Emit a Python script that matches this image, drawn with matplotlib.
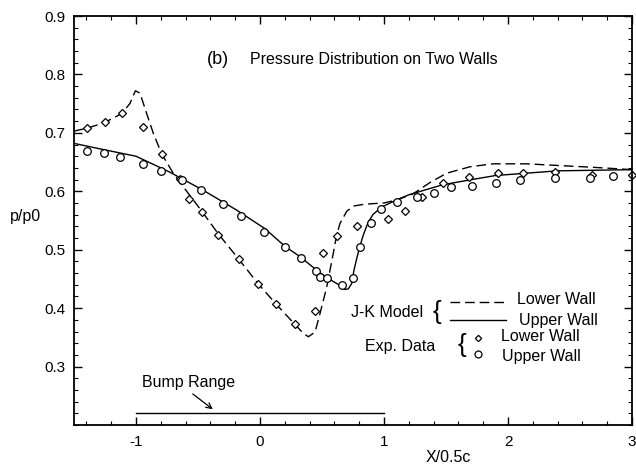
import matplotlib
matplotlib.use("Agg")
import matplotlib.pyplot as plt
from matplotlib.ticker import MultipleLocator

plt.rcParams['font.family'] = ['Liberation Sans', 'DejaVu Sans']

# J-K model, lower wall (dashed)
lower_model_x = [-1.5, -1.395, -1.26, -1.115, -1.05, -1.005, -0.968, -0.914, -0.86, -0.793,
                 -0.70, -0.62, -0.47, -0.336, -0.172, -0.016, 0.129, 0.282, 0.349, 0.39,
                 0.444, 0.484, 0.538, 0.591, 0.618, 0.645, 0.70, 0.76, 0.85, 1.0, 1.102,
                 1.237, 1.371, 1.506, 1.694, 1.88, 2.15, 2.42, 2.69, 3.0]
lower_model_y = [0.703, 0.708, 0.717, 0.733, 0.750, 0.772, 0.768, 0.733, 0.699, 0.664,
                 0.631, 0.608, 0.566, 0.527, 0.484, 0.442, 0.407, 0.372, 0.357, 0.351,
                 0.359, 0.391, 0.436, 0.494, 0.525, 0.545, 0.566, 0.575, 0.578, 0.580, 0.585,
                 0.596, 0.615, 0.631, 0.642, 0.647, 0.647, 0.644, 0.641, 0.637]

# J-K model, upper wall (solid)
upper_model_x = [-1.5, -1.3, -1.0, -0.73, -0.46, -0.19, 0.04, 0.2, 0.33, 0.45, 0.54, 0.62,
                 0.685, 0.712, 0.739, 0.758, 0.78, 0.804, 0.833, 0.868, 0.91, 0.98, 1.1,
                 1.2, 1.47, 1.68, 1.9, 2.4, 3.0]
upper_model_y = [0.682, 0.673, 0.660, 0.633, 0.602, 0.568, 0.536, 0.506, 0.487, 0.466, 0.452,
                 0.442, 0.432, 0.433, 0.442, 0.465, 0.485, 0.505, 0.525, 0.545, 0.560, 0.573,
                 0.585, 0.594, 0.611, 0.619, 0.627, 0.635, 0.637]

# Experimental data, lower wall
lower_exp_x = [-1.398, -1.25, -1.11, -0.946, -0.793, -0.645, -0.57, -0.47, -0.336, -0.172,
               -0.016, 0.129, 0.282, 0.444, 0.506, 0.623, 0.78, 1.036, 1.169, 1.304, 1.472,
               1.688, 1.917, 2.119, 2.379, 2.681, 3.0]
lower_exp_y = [0.709, 0.718, 0.734, 0.710, 0.664, 0.621, 0.586, 0.564, 0.526, 0.484,
               0.441, 0.407, 0.372, 0.395, 0.495, 0.524, 0.540, 0.552, 0.566, 0.590, 0.615,
               0.625, 0.631, 0.632, 0.633, 0.628, 0.628]

# Experimental data, upper wall
upper_exp_x = [-1.393, -1.26, -1.129, -0.941, -0.801, -0.627, -0.478, -0.301, -0.153, 0.035,
               0.199, 0.329, 0.452, 0.484, 0.538, 0.665, 0.748, 0.804, 0.894, 0.976, 1.101,
               1.27, 1.405, 1.544, 1.707, 1.903, 2.094, 2.379, 2.661, 2.844]
upper_exp_y = [0.669, 0.665, 0.659, 0.646, 0.635, 0.619, 0.602, 0.578, 0.558, 0.530,
               0.504, 0.485, 0.464, 0.453, 0.451, 0.439, 0.451, 0.505, 0.546, 0.569, 0.582,
               0.591, 0.597, 0.607, 0.609, 0.615, 0.619, 0.623, 0.623, 0.627]

x_ticks = [-1, 0, 1, 2, 3]
x_labels = ['-1', '0', '1', '2', '3']
y_ticks = [0.3, 0.4, 0.5, 0.6, 0.7, 0.8, 0.9]
y_labels = ['0.3', '0.4', '0.5', '0.6', '0.7', '0.8', '0.9']

fs = 11.5

fig = plt.figure(figsize=(6.36, 4.68), dpi=100)
ax = fig.add_axes([0.1164, 0.0919, 0.8773, 0.8739])

ax.plot(lower_model_x, lower_model_y, color='black', lw=1.0, dashes=(7, 3.5))
ax.plot(upper_model_x, upper_model_y, color='black', lw=1.0)
ax.plot(lower_exp_x, lower_exp_y, 'D', ms=3.6, mfc='white', mec='black', mew=0.9, clip_on=False)
ax.plot(upper_exp_x, upper_exp_y, 'o', ms=5.5, mfc='white', mec='black', mew=0.9)

ax.set_xlim(-1.5, 3)
ax.set_ylim(0.2, 0.9)
ax.set_xticks(x_ticks, x_labels)
ax.set_yticks(y_ticks, y_labels)
ax.xaxis.set_minor_locator(MultipleLocator(0.2))
ax.yaxis.set_minor_locator(MultipleLocator(0.02))
ax.tick_params(which='both', direction='in', top=True, right=True, labelsize=11)
ax.tick_params(which='major', length=6, width=1.0)
ax.tick_params(which='minor', length=3, width=0.8)
ax.tick_params(axis='x', pad=7)
ax.tick_params(axis='y', pad=6)
for s in ax.spines.values():
    s.set_linewidth(1.3)

ax.set_xlabel('X/0.5c', fontsize=fs)
ax.xaxis.set_label_coords(0.67, -0.062)
ax.set_ylabel('p/p0', fontsize=fs, rotation=0, ha='left', va='center')
ax.yaxis.set_label_coords(-0.115, 0.509)

ax.text(-0.425, 0.825, '(b)', fontsize=13, va='center')
ax.text(-0.081, 0.825, 'Pressure Distribution on Two Walls', fontsize=fs, va='center')

# bump range
ax.plot([-1, 1], [0.221, 0.221], color='black', lw=1.0)
ax.annotate('', xy=(-0.363, 0.224), xytext=(-0.56, 0.256),
            arrowprops=dict(arrowstyle='->', color='black', lw=0.9))
ax.text(-0.955, 0.273, 'Bump Range', fontsize=fs, va='center')

# legend drawn by hand
ax.text(0.73, 0.392, 'J-K Model', fontsize=fs, va='center')
ax.text(1.39, 0.394, '{', fontsize=19, va='center', fontweight='light')
ax.plot([1.53, 1.98], [0.411, 0.411], color='black', lw=1.0, dashes=(7, 3.5))
ax.plot([1.53, 1.98], [0.380, 0.380], color='black', lw=1.0)
ax.text(2.07, 0.415, 'Lower Wall', fontsize=fs, va='center')
ax.text(2.085, 0.379, 'Upper Wall', fontsize=fs, va='center')

ax.text(0.85, 0.335, 'Exp. Data', fontsize=fs, va='center')
ax.text(1.59, 0.337, '{', fontsize=19, va='center', fontweight='light')
ax.plot([1.755], [0.349], 'D', ms=3.2, mfc='white', mec='black', mew=0.9)
ax.plot([1.755], [0.321], 'o', ms=5.0, mfc='white', mec='black', mew=0.9)
ax.text(1.94, 0.351, 'Lower Wall', fontsize=fs, va='center')
ax.text(1.955, 0.317, 'Upper Wall', fontsize=fs, va='center')

fig.savefig('out.png', dpi=100)
